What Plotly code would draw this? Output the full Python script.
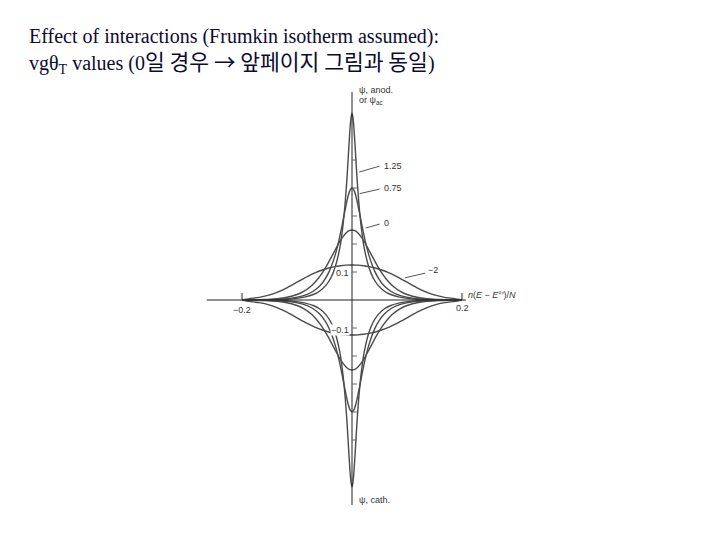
import plotly.graph_objects as go

# Anodic branch of each curve, E < 0 half; curves are symmetric
labels = ["1.25", "0.75", "0", "\u22122"]

x_125 = [-0.200, -0.1867, -0.1632, -0.1276, -0.1042, -0.0866, -0.0692, -0.0591, -0.0468,
         -0.0388, -0.0308, -0.0221, -0.0164, -0.0122, -0.0089, -0.0063, -0.0040, -0.0019, 0.0]
y_125 = [0.0, 0.0002, 0.0005, 0.0020, 0.0050, 0.0102, 0.0206, 0.0314, 0.0539,
         0.0778, 0.1161, 0.1872, 0.2667, 0.3529, 0.4421, 0.5275, 0.6000, 0.6492, 0.6667]

x_075 = [-0.200, -0.1892, -0.1760, -0.1404, -0.1169, -0.0992, -0.0815, -0.0712, -0.0583,
         -0.0499, -0.0410, -0.0311, -0.0241, -0.0186, -0.0141, -0.0101, -0.0066, -0.0032, 0.0]
y_075 = [0.0, 0.0003, 0.0005, 0.0020, 0.0050, 0.0101, 0.0202, 0.0304, 0.0511,
         0.0722, 0.1040, 0.1576, 0.2105, 0.2609, 0.3066, 0.3454, 0.3750, 0.3936, 0.4000]

x_0 = [-0.200, -0.1953, -0.1775, -0.1596, -0.1360, -0.1181, -0.1000, -0.0893, -0.0757,
       -0.0665, -0.0565, -0.0446, -0.0356, -0.0282, -0.0218, -0.0159, -0.0104, -0.0052, 0.0]
y_0 = [0.0, 0.0005, 0.0010, 0.0020, 0.0050, 0.0099, 0.0196, 0.0291, 0.0475,
       0.0651, 0.0900, 0.1275, 0.1600, 0.1875, 0.2100, 0.2275, 0.2400, 0.2475, 0.2500]

x_m2 = [-0.200, -0.1869, -0.1684, -0.1493, -0.1376, -0.1219, -0.1107, -0.0976, -0.0805,
        -0.0665, -0.0539, -0.0423, -0.0313, -0.0207, -0.0103, 0.0]
y_m2 = [0.0, 0.0049, 0.0095, 0.0182, 0.0261, 0.0399, 0.0517, 0.0662, 0.0844,
        0.0976, 0.1071, 0.1141, 0.1191, 0.1225, 0.1244, 0.1250]

yticks = [0.1, 0.2, 0.3, 0.4, 0.5]
xticks = [-0.2, 0.2]

curves = [(x_125, y_125), (x_075, y_075), (x_0, y_0), (x_m2, y_m2)]

LINE = "#4a4a4a"
fig = go.Figure()
for name, (xs, ys) in zip(labels, curves):
    full_x = xs + [-v for v in reversed(xs[:-1])]
    full_y = ys + list(reversed(ys[:-1]))
    for sign in (1, -1):
        fig.add_trace(go.Scatter(x=full_x, y=[sign * v for v in full_y], mode="lines", name=name,
                                 line=dict(color=LINE, width=1.4, shape="spline", smoothing=0.6),
                                 showlegend=False, hoverinfo="skip"))

AX = "#222222"
shapes = [
    dict(type="line", x0=0, x1=0, y0=0.743, y1=-0.732, line=dict(color=AX, width=1)),
    dict(type="line", x0=-0.264, x1=0.207, y0=0, y1=0, line=dict(color=AX, width=1)),
]
for t in yticks:
    for s in (1, -1):
        shapes.append(dict(type="line", x0=0, x1=0.009, y0=s * t, y1=s * t,
                           line=dict(color="#666", width=1)))
for t in xticks:
    shapes.append(dict(type="line", x0=t, x1=t, y0=0, y1=0.025, line=dict(color=AX, width=1)))

# leader lines for curve labels
leaders = [((0.013, 0.457), (0.050, 0.478)),
           ((0.014, 0.38), (0.050, 0.396)),
           ((0.025, 0.257), (0.050, 0.271)),
           ((0.096, 0.079), (0.133, 0.096))]
for (a, b) in leaders:
    shapes.append(dict(type="line", x0=a[0], y0=a[1], x1=b[0], y1=b[1],
                       line=dict(color="#555", width=1)))

fs = dict(family="Liberation Sans, Arial", size=9, color="#333")
ann = []
ann.append(dict(x=-0.003, y=0.0964, text="0.1", xanchor="right", yanchor="middle", font=fs,
                bgcolor="white", borderpad=0))
ann.append(dict(x=-0.003, y=-0.107, text="\u22120.1", xanchor="right", yanchor="middle", font=fs,
                bgcolor="white", borderpad=0))
ann.append(dict(x=-0.2, y=-0.036, text="\u22120.2", xanchor="center", yanchor="middle", font=fs))
ann.append(dict(x=0.2, y=-0.029, text="0.2", xanchor="center", yanchor="middle", font=fs))
ann.append(dict(x=0.207, y=0.018, text="<i>n</i>(<i>E</i> \u2212 <i>E</i>\u00b0\u2032)/<i>N</i>",
                xanchor="left", yanchor="middle", font=fs))
ann.append(dict(x=0.009, y=0.75, text="\u03c8, anod.", xanchor="left", yanchor="middle", font=fs))
ann.append(dict(x=0.009, y=0.714, text="or \u03c8<sub>ac</sub>", xanchor="left", yanchor="middle", font=fs))
ann.append(dict(x=0.009, y=-0.714, text="\u03c8, cath.", xanchor="left", yanchor="middle", font=fs))
label_pos = [(0.055, 0.480), (0.055, 0.400), (0.055, 0.275), (0.135, 0.107)]
for lab, (lx, ly) in zip(labels, label_pos):
    ann.append(dict(x=lx, y=ly, text=lab, xanchor="left", yanchor="middle", font=fs))

for a in ann:
    a.update(xref="x", yref="y", showarrow=False)

OFF = 8  # page body margin
TITLE = "#0b0b30"
ann.append(dict(xref="paper", yref="paper", x=(27 - OFF) / 720, y=1 - (37 - OFF) / 540,
                xanchor="left", yanchor="middle", showarrow=False,
                text="Effect of interactions (Frumkin isotherm assumed):",
                font=dict(family="Liberation Serif, Times New Roman", size=20, color=TITLE)))
ann.append(dict(xref="paper", yref="paper", x=(27 - OFF) / 720, y=1 - (61 - OFF) / 540,
                xanchor="left", yanchor="middle", showarrow=False,
                text="vg\u03b8<sub>T</sub> values (0<span style=\"font-family:'Noto Sans CJK KR';font-size:21.5px\">일 경우 → 앞페이지 그림과 동일</span>)",
                font=dict(family="Liberation Serif, Times New Roman", size=20, color=TITLE)))

fig.update_layout(
    width=720, height=540,
    margin=dict(l=0, r=0, t=0, b=0),
    paper_bgcolor="white", plot_bgcolor="white",
    xaxis=dict(range=[-(352 - OFF) / 550, (720 - 352 + OFF) / 550], visible=False, fixedrange=True),
    yaxis=dict(range=[-(540 - 300 + OFF) / 280, (300 - OFF) / 280], visible=False, fixedrange=True),
    shapes=shapes, annotations=ann,
)
fig.write_html("out.html")
